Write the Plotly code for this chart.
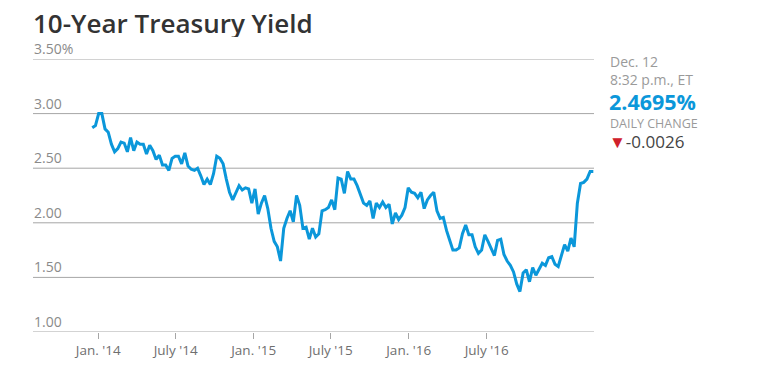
import pandas as pd
import plotly.graph_objects as go

# Weekly 10-year yield values (percent)
yields = [
    2.87, 2.89, 3.00, 3.00, 2.86, 2.83, 2.72, 2.65, 2.68, 2.74, 2.73, 2.65, 2.78,
    2.66, 2.74, 2.72, 2.72, 2.63, 2.71, 2.66, 2.58, 2.62, 2.53, 2.53, 2.48, 2.59,
    2.61, 2.61, 2.54, 2.64, 2.52, 2.49, 2.48, 2.50, 2.43, 2.35, 2.40, 2.35, 2.45,
    2.61, 2.59, 2.54, 2.40, 2.28, 2.21, 2.27, 2.34, 2.30, 2.32, 2.31, 2.18, 2.31,
    2.08, 2.18, 2.25, 2.13, 1.95, 1.83, 1.78, 1.65, 1.95, 2.04, 2.11, 2.01, 2.25,
    2.16, 1.95, 1.96, 1.85, 1.95, 1.87, 1.90, 2.11, 2.12, 2.14, 2.21, 2.12,
    2.41, 2.40, 2.27, 2.47, 2.40, 2.40, 2.34, 2.25, 2.18, 2.16, 2.20, 2.04, 2.18,
    2.14, 2.19, 2.14, 2.17, 1.99, 2.09, 2.03, 2.07, 2.14, 2.32, 2.28, 2.27, 2.23,
    2.28, 2.13, 2.21, 2.25, 2.28, 2.11, 2.04, 2.05, 1.93, 1.84, 1.75, 1.75, 1.77,
    1.90, 1.98, 1.89, 1.89, 1.78, 1.72, 1.75, 1.89, 1.83, 1.77, 1.70, 1.84, 1.85,
    1.71, 1.65, 1.61, 1.55, 1.44, 1.37, 1.54, 1.57, 1.46, 1.59, 1.52, 1.57, 1.63,
    1.61, 1.68, 1.69, 1.62, 1.60, 1.71, 1.80, 1.74, 1.86, 1.78, 2.18, 2.36, 2.37,
    2.40, 2.47, 2.4695,
]
dates = pd.date_range(end="2016-12-12", periods=len(yields), freq="7D")

y_tickvals = [1.0, 1.5, 2.0, 2.5, 3.0, 3.5]
y_ticktext = ["1.00", "1.50", "2.00", "2.50", "3.00", "3.50%"]

x_tickvals = ["2013-12-22", "2014-06-10", "2014-11-28", "2015-05-16", "2015-11-03", "2016-04-22"]
x_ticktext = ["Jan. '14", "July '14", "Jan. '15", "July '15", "Jan. '16", "July '16"]

title_text = "10-Year Treasury Yield"
quote_date = "Dec. 12"
quote_time = "8:32 p.m., ET"
quote_value = "2.4695%"
change_label = "DAILY CHANGE"
change_value = "-0.0026"

BLUE = "#0b97da"
GRID = "#a6a6a6"
FONT = "Open Sans, Lato, sans-serif"

L, R, T, B = 33, 190, 59, 37
W, H = 784, 371
PW, PH = W - L - R, H - T - B

fig = go.Figure()
fig.add_trace(go.Scatter(
    x=dates, y=yields, mode="lines",
    line=dict(color=BLUE, width=3), hoverinfo="skip",
))

x_left = dates[0] - pd.Timedelta(days=130)
x_right = dates[-1] + pd.Timedelta(days=1.5)

fig.update_layout(
    width=W, height=H,
    margin=dict(l=L, r=R, t=T, b=B, pad=0),
    paper_bgcolor="white", plot_bgcolor="white",
    showlegend=False,
    font=dict(family=FONT),
    xaxis=dict(
        range=[x_left, x_right], tickvals=x_tickvals, ticktext=x_ticktext,
        showgrid=False, zeroline=False, showline=False,
        ticks="outside", ticklen=6, tickcolor=GRID, tickwidth=1,
        tickfont=dict(size=13.5, color="#6f6f6f", family=FONT),
        fixedrange=True,
    ),
    yaxis=dict(
        range=[1.0, 3.5], showgrid=False, showticklabels=False,
        zeroline=False, showline=False, ticks="",
        fixedrange=True,
    ),
)

# horizontal gridlines and left-aligned labels sitting on them
for v, t in zip(y_tickvals, y_ticktext):
    fig.add_shape(type="line", xref="paper", yref="y", x0=0, x1=1, y0=v, y1=v,
                  line=dict(color=GRID, width=1), layer="below")
    fig.add_annotation(text=t, xref="paper", yref="y", x=0, y=v,
                       xanchor="left", yanchor="bottom", showarrow=False,
                       xshift=-1, yshift=-1,
                       font=dict(size=14, color="#8a8a8a", family=FONT))


def px_x(px):
    return (px - L) / PW


def px_y(py):
    return (H - B - py) / PH


ann = [
    dict(text=title_text, x=px_x(31), y=px_y(22.5), xanchor="left", yanchor="middle",
         height=28, font=dict(size=26, color="#333333", family=FONT, weight=600)),
    dict(text=quote_date + "<br>" + quote_time, x=px_x(608), y=px_y(70.5),
         xanchor="left", yanchor="middle", align="left",
         font=dict(size=14, color="#9a9a9a", family=FONT)),
    dict(text=quote_value, x=px_x(607), y=px_y(101.5), xanchor="left", yanchor="middle",
         height=22, font=dict(size=21.5, color=BLUE, family=FONT, weight=700)),
    dict(text=change_label, x=px_x(608), y=px_y(123.5), xanchor="left", yanchor="middle",
         font=dict(size=12.5, color="#9a9a9a", family=FONT)),
    dict(text="<span style='color:#d0202b;font-size:17px'>▼</span>" + change_value,
         x=px_x(607), y=px_y(142.5), xanchor="left", yanchor="middle",
         font=dict(size=17, color="#444444", family=FONT)),
]
for a in ann:
    a.update(xref="paper", yref="paper", showarrow=False)
    fig.add_annotation(**a)

fig.write_html("out.html", config={"displayModeBar": False},
               post_script="document.body.style.margin='0';")
